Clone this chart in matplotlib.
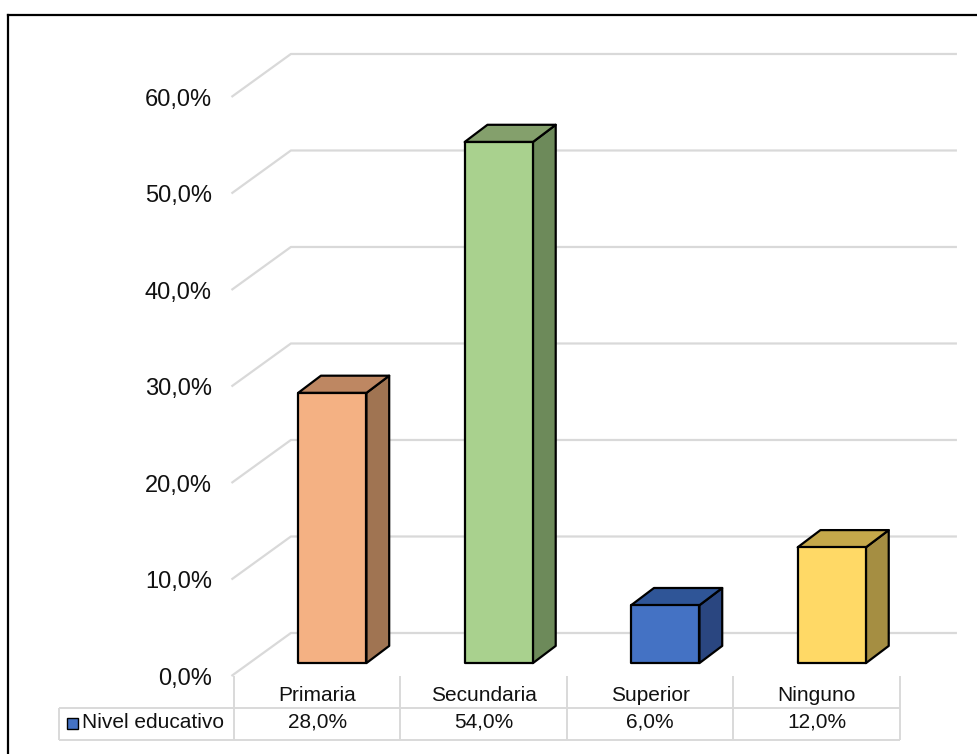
import matplotlib.pyplot as plt
from matplotlib.patches import Polygon, Rectangle

plt.rcParams['font.family'] = ['Liberation Sans', 'DejaVu Sans']

# Data
categories = ['Primaria', 'Secundaria', 'Superior', 'Ninguno']
values = [28.0, 54.0, 6.0, 12.0]
series_name = 'Nivel educativo'
yticks = [0, 10, 20, 30, 40, 50, 60]

front_colors = ['#F4B183', '#A9D18E', '#4472C4', '#FFD966']
top_colors = ['#BE8762', '#84A06C', '#2F5597', '#C5A84A']
side_colors = ['#A07452', '#6D8A5A', '#2A4680', '#A58E42']

fig = plt.figure(figsize=(9.77, 7.54), dpi=100)
ax = fig.add_axes([0, 0, 1, 1])
ax.set_xlim(-1.905, 3.9625)
ax.set_ylim(-8.083, 70.05)
ax.axis('off')

# depth of the 3D box (in data units) and bar placement in depth
DX, DY = 0.342, 4.456
d0, d1 = 0.3, 0.7
w = 0.41
x0, x1 = -0.5, 3.5
grid_c = '#D9D9D9'

# back wall gridlines with the left side wall
for v in yticks:
    ax.plot([x0 - 0.015, x0 + DX, x1 + DX], [v, v + DY, v + DY],
            color=grid_c, lw=1.6, solid_capstyle='butt', zorder=1)
    ax.text(-0.632, v - 0.3, f'{v:.1f}%'.replace('.', ','), ha='right',
            va='center', fontsize=17, color='#111111')

# 3D bars
for i, val in enumerate(values):
    cx = i + d0 * DX - 0.012
    base = d0 * DY
    left, right = cx - w / 2, cx + w / 2
    top = val + base
    ddx, ddy = (d1 - d0) * DX, (d1 - d0) * DY
    front = Polygon([(left, base), (right, base), (right, top), (left, top)],
                    closed=True, fc=front_colors[i], ec='black', lw=1.6,
                    joinstyle='round', zorder=4)
    side = Polygon([(right, base), (right + ddx, base + ddy),
                    (right + ddx, top + ddy), (right, top)],
                   closed=True, fc=side_colors[i], ec='black', lw=1.6,
                   joinstyle='round', zorder=3)
    lid = Polygon([(left, top), (right, top), (right + ddx, top + ddy),
                   (left + ddx, top + ddy)],
                  closed=True, fc=top_colors[i], ec='black', lw=1.6,
                  joinstyle='round', zorder=3)
    for p in (side, lid, front):
        ax.add_patch(p)

# data table below the chart
row_mid = -3.316
row_bot = -6.63
tbl_left = -1.551
tl = dict(color=grid_c, lw=1.4, solid_capstyle='butt', zorder=2)
for k in range(len(categories) + 1):
    ax.plot([x0 + k, x0 + k], [0, row_bot], **tl)
ax.plot([tbl_left, x1], [row_mid, row_mid], **tl)
ax.plot([tbl_left, x1], [row_bot, row_bot], **tl)
ax.plot([tbl_left, tbl_left], [row_mid, row_bot], **tl)

for i, (cat, val) in enumerate(zip(categories, values)):
    ax.text(i, -1.97, cat, ha='center', va='center', fontsize=15, color='#111111')
    ax.text(i, -4.77, f'{val:.1f}%'.replace('.', ','), ha='center', va='center',
            fontsize=15, color='#111111')

ax.add_patch(Rectangle((-1.503, -5.49), 0.066, 1.14, fc='#4472C4', ec='black',
                       lw=1.0, zorder=3))
ax.text(-1.415, -4.77, series_name, ha='left', va='center', fontsize=15,
        color='#111111')

# outer frame of the chart area
fig.add_artist(plt.Line2D([0.0085, 0.0085], [0, 0.980], color='black', lw=1.6,
                          transform=fig.transFigure))
fig.add_artist(plt.Line2D([0.0085, 1.0], [0.980, 0.980], color='black', lw=1.6,
                          transform=fig.transFigure))

fig.savefig('out.png', dpi=100)
